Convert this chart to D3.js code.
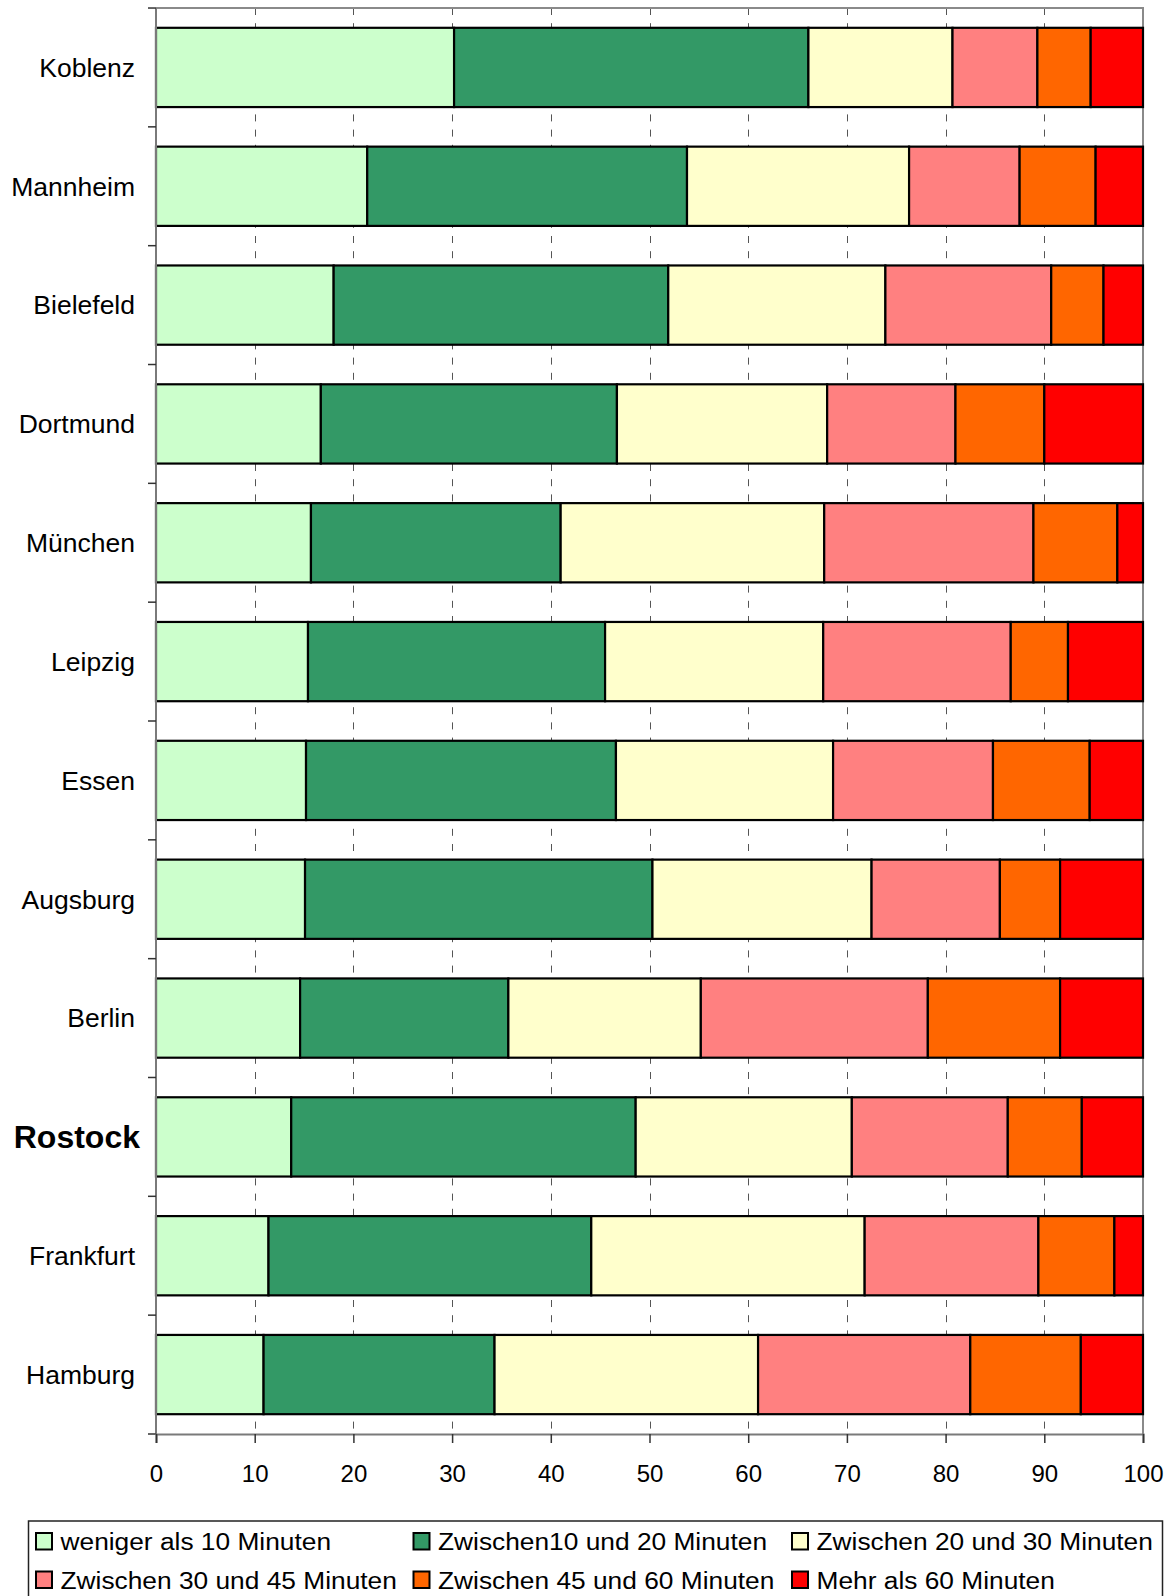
<!DOCTYPE html>
<html>
<head>
<meta charset="utf-8">
<script src="https://cdn.jsdelivr.net/npm/d3@7"></script>
<style>
  html, body { margin: 0; padding: 0; background: #fff; }
  svg { display: block; font-family: "Liberation Sans", Arial, sans-serif; }
</style>
</head>
<body>
<svg id="chart" width="1175" height="1596"></svg>
<script>
const categories = ["Koblenz","Mannheim","Bielefeld","Dortmund","München","Leipzig","Essen","Augsburg","Berlin","Rostock","Frankfurt","Hamburg"];
const seriesNames = ["weniger als 10 Minuten","Zwischen10 und 20 Minuten","Zwischen 20 und 30 Minuten","Zwischen 30 und 45 Minuten","Zwischen 45 und 60 Minuten","Mehr als 60 Minuten"];
const seriesColors = ["#CCFFCC","#339966","#FFFFCC","#FF8080","#FF6600","#FF0000"];
const under10   = [30.2, 21.4, 18.0, 16.7, 15.7, 15.4, 15.2, 15.1, 14.6, 13.7, 11.4, 10.9];
const from10to20 = [35.9, 32.4, 33.9, 30.0, 25.3, 30.1, 31.4, 35.2, 21.1, 34.9, 32.7, 23.4];
const from20to30 = [14.6, 22.5, 22.0, 21.3, 26.7, 22.1, 22.0, 22.2, 19.5, 21.9, 27.7, 26.7];
const from30to45 = [8.6, 11.2, 16.8, 13.0, 21.2, 19.0, 16.2, 13.0, 23.0, 15.8, 17.6, 21.5];
const from45to60 = [5.4, 7.7, 5.3, 9.0, 8.5, 5.8, 9.8, 6.1, 13.4, 7.5, 7.7, 11.2];
const over60    = [5.3, 4.8, 4.0, 10.0, 2.6, 7.6, 5.4, 8.4, 8.4, 6.2, 2.9, 6.3];
const xTicks = [0,10,20,30,40,50,60,70,80,90,100];
const highlight = "Rostock";

const seriesValues = [under10, from10to20, from20to30, from30to45, from45to60, over60];
const rows = categories.map((c, i) => {
  const r = { city: c };
  seriesNames.forEach((s, k) => r[s] = seriesValues[k][i]);
  return r;
});

const svg = d3.select("#chart");
const plot = { left: 156, right: 1143, top: 8, bottom: 1434 };

const x = d3.scaleLinear().domain([0, 100]).range([plot.left, plot.right]);
const y = d3.scaleBand().domain(categories).range([plot.top, plot.bottom])
  .paddingInner(0.333).paddingOuter(0.1667);

// dashed vertical gridlines
svg.append("g").selectAll("line").data(xTicks.filter(t => t > 0 && t < 100)).join("line")
  .attr("x1", d => Math.round(x(d)) + 0.5).attr("x2", d => Math.round(x(d)) + 0.5)
  .attr("y1", plot.top).attr("y2", plot.bottom)
  .attr("stroke", "#555").attr("stroke-width", 1)
  .attr("stroke-dasharray", "7,8.2");

// plot area border (top, right)
svg.append("path")
  .attr("d", `M${plot.left},${plot.top}H${plot.right}V${plot.bottom}`)
  .attr("fill", "none").attr("stroke", "#8a8a8a").attr("stroke-width", 2);

// stacked bars
const stack = d3.stack().keys(seriesNames)(rows);
svg.append("g").selectAll("g").data(stack).join("g")
  .attr("fill", (d, i) => seriesColors[i])
  .selectAll("rect").data(d => d).join("rect")
  .attr("x", d => x(d[0]))
  .attr("width", d => x(d[1]) - x(d[0]))
  .attr("y", d => y(d.data.city))
  .attr("height", y.bandwidth())
  .attr("stroke", "#000").attr("stroke-width", 2.2);

// y axis line
svg.append("line")
  .attr("x1", plot.left).attr("x2", plot.left)
  .attr("y1", plot.top).attr("y2", plot.bottom)
  .attr("stroke", "#7a7a7a").attr("stroke-width", 2);

// y axis ticks at band boundaries
const boundaries = categories.map(c => y(c) - y.step() * y.paddingInner() / 2).concat([plot.bottom]);
svg.append("g").selectAll("line").data(boundaries).join("line")
  .attr("x1", plot.left - 8).attr("x2", plot.left)
  .attr("y1", d => d).attr("y2", d => d)
  .attr("stroke", "#333").attr("stroke-width", 1.5);

// category labels
svg.append("g").selectAll("text").data(categories).join("text")
  .attr("x", d => d === highlight ? 140 : 135)
  .attr("y", d => y(d) + y.bandwidth() / 2)
  .attr("dy", "0.35em")
  .attr("text-anchor", "end")
  .attr("font-size", d => d === highlight ? 32 : 26.5)
  .attr("font-weight", d => d === highlight ? "bold" : "normal")
  .attr("fill", "#000")
  .text(d => d);

// x axis
const xAxis = d3.axisBottom(x).tickValues(xTicks).tickSize(9).tickPadding(0).tickFormat(d3.format("d"));
const gx = svg.append("g").attr("transform", `translate(0,${plot.bottom})`).call(xAxis);
gx.select(".domain").attr("stroke", "#7a7a7a").attr("stroke-width", 2.2);
gx.selectAll(".tick line").attr("stroke", "#333").attr("stroke-width", 1.5);
gx.selectAll(".tick text")
  .attr("y", 47.5).attr("dy", null)
  .attr("font-size", 24)
  .attr("font-family", "'Liberation Sans', Arial, sans-serif")
  .attr("fill", "#000");

// legend
svg.append("rect")
  .attr("x", 28.5).attr("y", 1521).attr("width", 1134).attr("height", 100)
  .attr("fill", "#fff").attr("stroke", "#222").attr("stroke-width", 1.5);

const legendCols = [36, 413.5, 792];
const legendRows = [1533, 1571.5];
const lg = svg.append("g").selectAll("g").data(seriesNames).join("g")
  .attr("transform", (d, i) => `translate(${legendCols[i % 3]},${legendRows[Math.floor(i / 3)]})`);
lg.append("rect")
  .attr("x", 0).attr("y", 0).attr("width", 16).attr("height", 16.5)
  .attr("fill", (d, i) => seriesColors[i])
  .attr("stroke", "#000").attr("stroke-width", 2);
lg.append("text")
  .attr("transform", "translate(24.5,17) scale(1.12,1)")
  .attr("font-size", 23.5)
  .attr("fill", "#000")
  .text(d => d);
</script>
</body>
</html>
